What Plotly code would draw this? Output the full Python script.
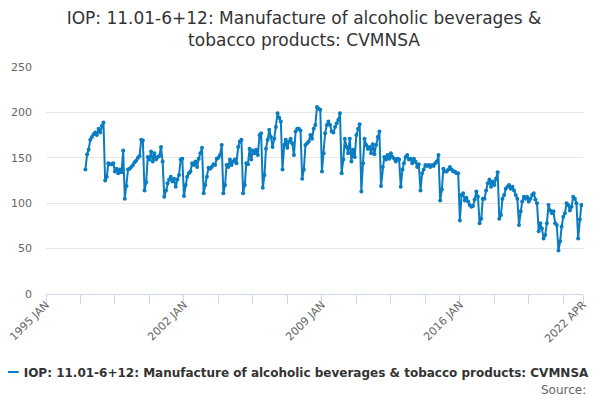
import pandas as pd
import plotly.graph_objects as go

# monthly index values, Jan 1997 .. Apr 2022
v1997 = [137, 154, 159, 170, 173, 176, 178, 175, 182, 178, 185, 189]
v1998 = [125, 129, 144, 143, 143, 144, 135, 138, 133, 137, 134, 158]
v1999 = [105, 119, 137, 138, 140, 142, 145, 147, 150, 152, 170, 169]
v2000 = [114, 123, 151, 148, 157, 146, 155, 148, 151, 152, 162, 146]
v2001 = [107, 114, 122, 126, 129, 124, 127, 118, 126, 131, 148, 149]
v2002 = [108, 120, 129, 133, 135, 144, 142, 146, 140, 149, 155, 161]
v2003 = [111, 120, 129, 139, 138, 140, 143, 142, 149, 150, 153, 164]
v2004 = [111, 120, 142, 140, 148, 142, 146, 148, 144, 162, 168, 170]
v2005 = [111, 120, 144, 143, 160, 148, 158, 155, 159, 153, 175, 177]
v2006 = [117, 131, 160, 170, 181, 173, 162, 171, 184, 199, 194, 190]
v2007 = [137, 164, 170, 161, 168, 171, 166, 153, 179, 182, 182, 180]
v2008 = [127, 137, 164, 166, 168, 175, 171, 182, 186, 206, 204, 203]
v2009 = [135, 155, 177, 186, 190, 186, 179, 178, 184, 188, 192, 199]
v2010 = [133, 148, 171, 162, 155, 171, 146, 159, 151, 175, 182, 187]
v2011 = [113, 144, 171, 164, 160, 162, 155, 165, 154, 164, 173, 179]
v2012 = [119, 140, 151, 148, 153, 149, 155, 151, 149, 146, 149, 148]
v2013 = [118, 137, 144, 151, 153, 148, 149, 144, 149, 146, 140, 143]
v2014 = [114, 133, 137, 142, 141, 142, 140, 142, 141, 144, 146, 153]
v2015 = [103, 115, 138, 135, 135, 137, 140, 137, 135, 135, 133, 133]
v2016 = [81, 109, 111, 103, 106, 102, 98, 96, 97, 104, 113, 107]
v2017 = [78, 83, 105, 105, 114, 122, 126, 118, 124, 120, 127, 134]
v2018 = [83, 87, 105, 109, 116, 118, 120, 116, 118, 114, 109, 105]
v2019 = [76, 91, 102, 107, 105, 107, 102, 105, 109, 111, 104, 100]
v2020 = [69, 78, 72, 61, 65, 78, 98, 92, 89, 91, 78, 76]
v2021 = [48, 58, 74, 85, 89, 100, 98, 92, 96, 107, 105, 100]
v2022 = [61, 82, 98, 98]

values = (v1997 + v1998 + v1999 + v2000 + v2001 + v2002 + v2003 + v2004
          + v2005 + v2006 + v2007 + v2008 + v2009 + v2010 + v2011 + v2012
          + v2013 + v2014 + v2015 + v2016 + v2017 + v2018 + v2019 + v2020
          + v2021 + v2022)
dates = pd.date_range("1997-01-01", periods=len(values), freq="MS")

series_name = "IOP: 11.01-6+12: Manufacture of alcoholic beverages & tobacco products: CVMNSA"

# ticks every 21 months, labels on every fourth, plus the end month
tick_dates = list(pd.date_range("1995-01-01", "2021-04-01", freq="21MS")) + [pd.Timestamp("2022-04-01")]
labelled = {"1995-01", "2002-01", "2009-01", "2016-01", "2022-04"}
tick_text = [d.strftime("%Y %b").upper() if d.strftime("%Y-%m") in labelled else "" for d in tick_dates]

fig = go.Figure()
fig.add_trace(go.Scatter(
    x=dates, y=values, mode="lines+markers", name="<b>" + series_name + "</b>",
    line=dict(color="#0a7cc1", width=2),
    marker=dict(color="#0a7cc1", size=4),
))

# page body has an 8px margin, so the figure is sized 592x392
fig.update_layout(
    width=592, height=392,
    paper_bgcolor="white", plot_bgcolor="white",
    font=dict(family="DejaVu Sans", color="#666666", size=11),
    title=dict(
        text="IOP: 11.01-6+12: Manufacture of alcoholic beverages &<br>tobacco products: CVMNSA",
        x=0.5, xanchor="center", y=0.96, yanchor="top",
        font=dict(size=17, color="#333333"),
    ),
    margin=dict(l=38, r=17, t=59, b=106, autoexpand=False),
    showlegend=True,
    legend=dict(
        orientation="h", x=-0.116, xanchor="left", y=-0.344, yanchor="middle",
        font=dict(size=12, color="#333333"), itemwidth=30,
    ),
    annotations=[dict(
        text="Source:", xref="paper", yref="paper", x=1.01, y=-0.425,
        xanchor="right", yanchor="middle", showarrow=False,
        font=dict(size=12, color="#666666"),
    )],
)

fig.update_xaxes(
    type="date", range=["1995-01-01", "2022-04-01"],
    tickmode="array", tickvals=tick_dates, ticktext=tick_text,
    tickangle=-45, ticks="outside", ticklen=9, tickcolor="#ccd6eb",
    showline=True, linecolor="#ccd6eb", showgrid=False, zeroline=False,
    automargin=False, ticklabeloverflow="allow", ticklabelstandoff=-10,
)
fig.update_yaxes(
    range=[0, 250], tickvals=[0, 50, 100, 150, 200, 250],
    showgrid=True, gridcolor="#e6e6e6", zeroline=False, showline=False,
    ticks="", ticklabelstandoff=13, automargin=False,
)

fig.write_html("out.html")
